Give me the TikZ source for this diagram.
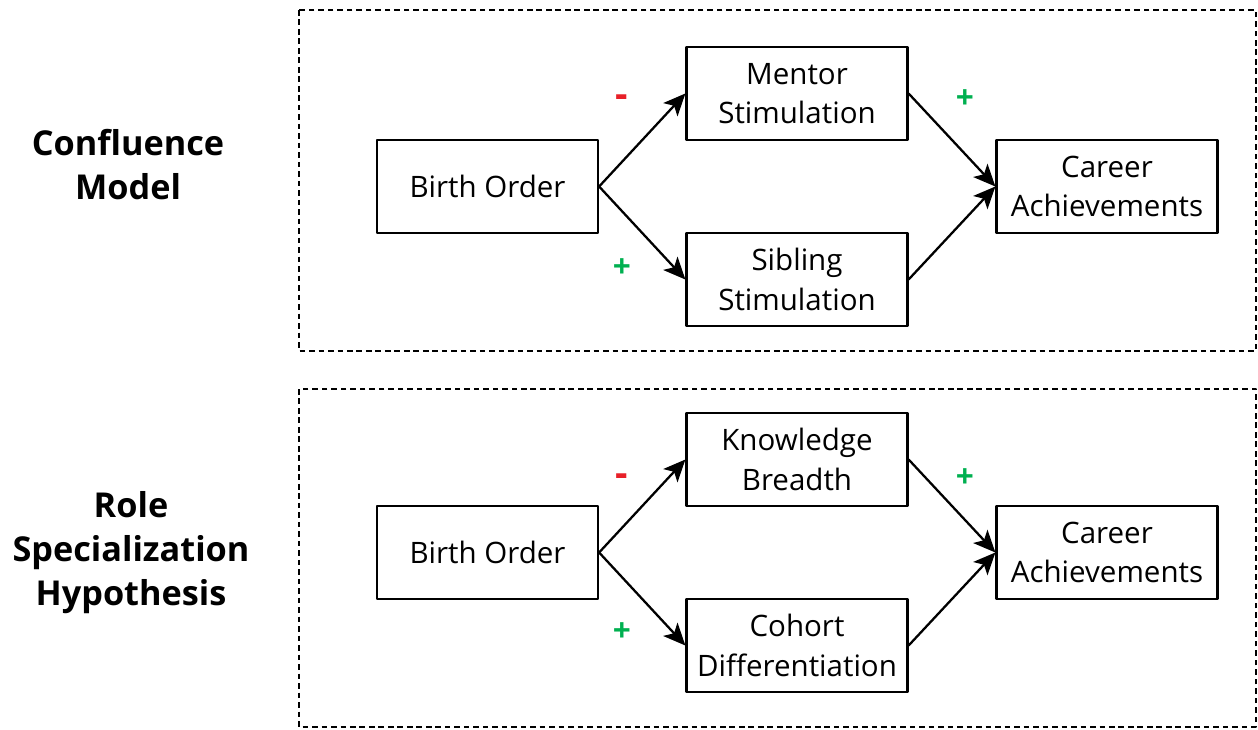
\documentclass[tikz,border=0pt]{standalone}
\usepackage{fontspec}
\setmainfont{Open Sans}
\usetikzlibrary{arrows.meta}
\definecolor{signred}{RGB}{232,32,40}
\definecolor{signgreen}{RGB}{0,176,80}
\tikzset{
  box/.style={draw, line width=1.3pt, minimum width=4.42cm, minimum height=1.86cm, inner sep=0pt, align=center, font=\fontsize{16.8}{22.5}\selectfont},
  panel/.style={line width=0.9pt, dash pattern=on 3.2pt off 2.2pt},
  link/.style={-{Stealth[length=12.5pt,width=11pt,inset=3pt]}, line width=1.3pt},
  title/.style={align=center, font=\fontsize{19.5}{25}\selectfont\bfseries},
  minus/.style={text=signred, font=\fontsize{22}{22}\selectfont\bfseries},
  plus/.style={text=signgreen, font=\fontsize{18}{18}\selectfont\bfseries}
}
\begin{document}
\begin{tikzpicture}[x=0.02cm, y=-0.02cm, line join=round]
  \useasboundingbox (0,0) rectangle (1258,730);
  % top panel: confluence model
  \draw[panel] (299,10) rectangle (1256,351);
  \node[title] (t1) at (128,165) {Confluence\\Model};
  \node[box] (b1) at (487.5,186.5) {Birth Order};
  \node[box] (m1) at (797,93.5) {Mentor\\Stimulation};
  \node[box] (s1) at (797,279.5) {Sibling\\Stimulation};
  \node[box] (c1) at (1107,186.5) {Career\\Achievements};
  \draw[link] (b1.east) -- (m1.west);
  \draw[link] (b1.east) -- (s1.west);
  \draw[link] (m1.east) -- (c1.west);
  \draw[link] (s1.east) -- (c1.west);
  \node[minus] (n1) at (622,101) {-};
  \node[plus] (p1) at (965,99) {+};
  \node[plus] (p2) at (622,268) {+};
  % bottom panel: role specialization
  \draw[panel] (299,389) rectangle (1256,727);
  \node[title] (t2) at (131,553) {Role\\Specialization\\Hypothesis};
  \node[box] (b2) at (487.5,552.5) {Birth Order};
  \node[box] (k2) at (797,459.5) {Knowledge\\Breadth};
  \node[box] (d2) at (797,645.5) {Cohort\\Differentiation};
  \node[box] (c2) at (1107,552.5) {Career\\Achievements};
  \draw[link] (b2.east) -- (k2.west);
  \draw[link] (b2.east) -- (d2.west);
  \draw[link] (k2.east) -- (c2.west);
  \draw[link] (d2.east) -- (c2.west);
  \node[minus] (n2) at (622,480) {-};
  \node[plus] (p3) at (965,478) {+};
  \node[plus] (p4) at (622,632) {+};
\end{tikzpicture}
\end{document}
